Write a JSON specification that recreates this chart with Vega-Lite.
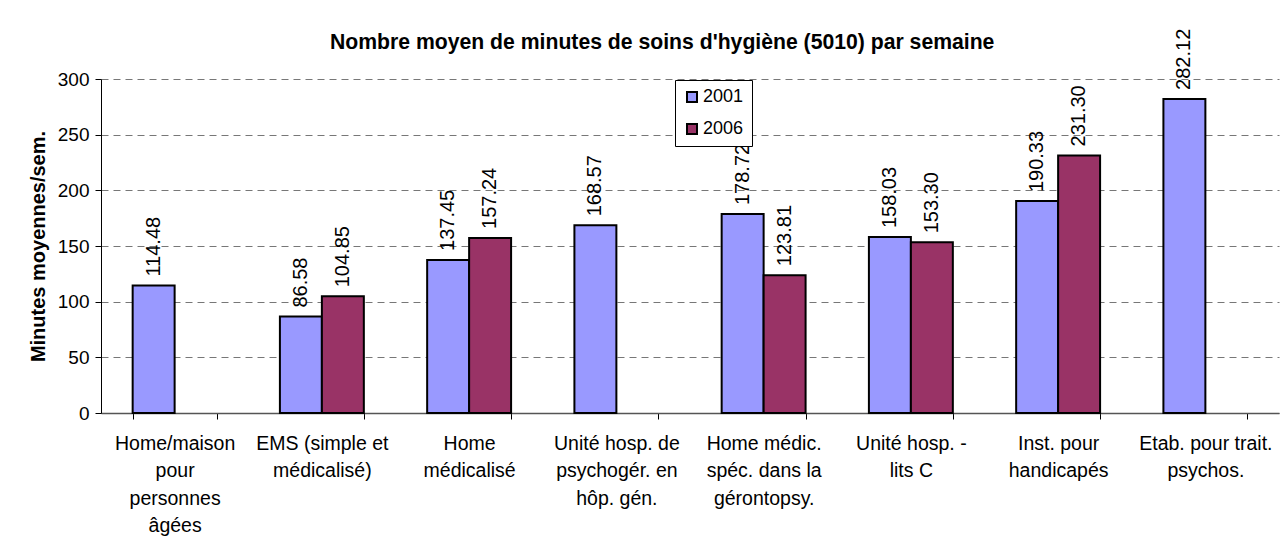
{
  "$schema": "https://vega.github.io/schema/vega-lite/v6.json",
  "autosize": {"type": "none"},
  "padding": {"left": 101, "top": 79, "right": 7, "bottom": 135},
  "width": 1178,
  "height": 334,
  "background": "white",
  "title": {
    "text": "Nombre moyen de minutes de soins d'hygiène (5010) par semaine",
    "font": "Liberation Sans",
    "fontSize": 21.2,
    "fontWeight": "bold",
    "color": "black",
    "anchor": "start",
    "frame": "group",
    "dx": 229,
    "offset": 0,
    "dy": 24
  },
  "data": {
    "values": [
      {"category": "Home/maison\npour\npersonnes\nâgées", "year": "2001", "value": 114.48},
      {"category": "EMS (simple et\nmédicalisé)", "year": "2001", "value": 86.58},
      {"category": "EMS (simple et\nmédicalisé)", "year": "2006", "value": 104.85},
      {"category": "Home\nmédicalisé", "year": "2001", "value": 137.45},
      {"category": "Home\nmédicalisé", "year": "2006", "value": 157.24},
      {"category": "Unité hosp. de\npsychogér. en\nhôp. gén.", "year": "2001", "value": 168.57},
      {"category": "Home médic.\nspéc. dans la\ngérontopsy.", "year": "2001", "value": 178.72},
      {"category": "Home médic.\nspéc. dans la\ngérontopsy.", "year": "2006", "value": 123.81},
      {"category": "Unité hosp. -\nlits C", "year": "2001", "value": 158.03},
      {"category": "Unité hosp. -\nlits C", "year": "2006", "value": 153.3},
      {"category": "Inst. pour\nhandicapés", "year": "2001", "value": 190.33},
      {"category": "Inst. pour\nhandicapés", "year": "2006", "value": 231.3},
      {"category": "Etab. pour trait.\npsychos.", "year": "2001", "value": 282.12}
    ]
  },
  "encoding": {
    "x": {
      "field": "category",
      "type": "nominal",
      "sort": null,
      "scale": {"paddingInner": 0.43, "paddingOuter": 0.215},
      "axis": {
        "title": null,
        "labelAngle": 0,
        "labelExpr": "isValid(datum.value) ? split(datum.value, '\\n') : ''",
        "labelFont": "Liberation Sans",
        "labelFontSize": 19.5,
        "labelColor": "black",
        "labelLineHeight": 27.5,
        "labelPadding": 15,
        "labelLimit": 0,
        "labelOverlap": false,
        "tickBand": "extent",
        "tickSize": 6,
        "tickColor": "black",
        "domainColor": "#555555",
        "domainWidth": 1.5,
        "grid": false
      }
    },
    "xOffset": {"field": "year", "type": "nominal", "sort": ["2001", "2006"]},
    "y": {
      "field": "value",
      "type": "quantitative",
      "scale": {"domain": [0, 300], "nice": false},
      "axis": {
        "values": [0, 50, 100, 150, 200, 250, 300],
        "title": "Minutes moyennes/sem.",
        "titleFont": "Liberation Sans",
        "titleFontSize": 20,
        "titleFontWeight": "bold",
        "titleColor": "black",
        "titlePadding": 9,
        "labelFont": "Liberation Sans",
        "labelFontSize": 19,
        "labelColor": "black",
        "labelPadding": 6,
        "tickSize": 6,
        "tickColor": "black",
        "domainColor": "black",
        "domainWidth": 1,
        "grid": true,
        "gridColor": "#777777",
        "gridDash": [7, 5],
        "gridWidth": 1
      }
    }
  },
  "layer": [
    {
      "mark": {"type": "bar", "stroke": "black", "strokeWidth": 2},
      "encoding": {
        "color": {
          "field": "year",
          "type": "nominal",
          "scale": {"domain": ["2001", "2006"], "range": ["#9999FF", "#993366"]},
          "legend": {
            "title": null,
            "orient": "none",
            "legendX": 574,
            "legendY": 1,
            "direction": "vertical",
            "fillColor": "white",
            "strokeColor": "black",
            "padding": 8,
            "symbolType": "square",
            "symbolSize": 100,
            "symbolStrokeColor": "black",
            "symbolStrokeWidth": 2,
            "symbolOpacity": 1,
            "labelFont": "Liberation Sans",
            "labelFontSize": 18,
            "labelColor": "black",
            "labelOffset": 2,
            "rowPadding": 14
          }
        }
      }
    },
    {
      "mark": {
        "type": "text",
        "angle": 270,
        "align": "left",
        "baseline": "middle",
        "dx": 9,
        "font": "Liberation Sans",
        "fontSize": 20,
        "color": "black"
      },
      "encoding": {
        "text": {"field": "value", "type": "quantitative", "format": ".2f"}
      }
    }
  ],
  "config": {
    "view": {"stroke": null}
  }
}
